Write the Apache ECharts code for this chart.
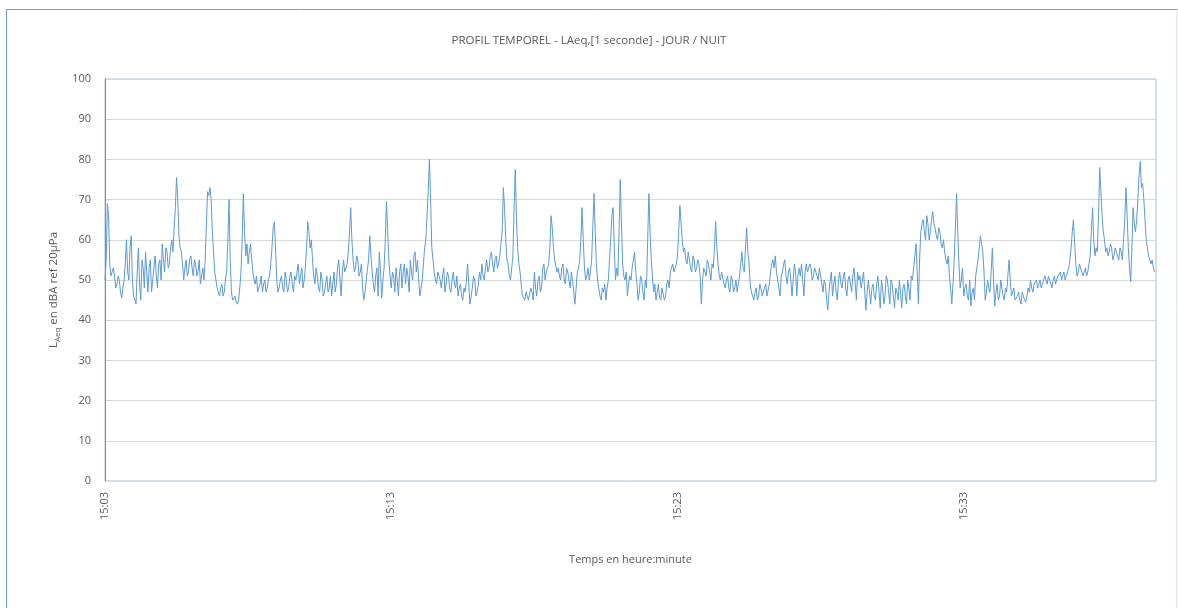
<!DOCTYPE html>
<html>
<head>
<meta charset="utf-8">
<title>Profil temporel LAeq</title>
<script src="https://cdn.jsdelivr.net/npm/echarts@6/dist/echarts.min.js"></script>
<style>
  html, body { margin: 0; padding: 0; background: #ffffff; }
  #chart { width: 1178px; height: 608px; }
</style>
</head>
<body>
<div id="chart"></div>
<script>
// Measurement start (15:03:00) and spacing between stored samples, in seconds
const startHour = 15;
const startMinute = 3;
const sampleStep = 5;
const durationSec = 2203;

// Y tick range
const yTicks = [0, 10, 20, 30, 40, 50, 60, 70, 80, 90, 100];

// LAeq readings in dB(A), one every sampleStep seconds from 15:03:00
const laeqValues = [
  50, 69, 54, 52, 51, 49, 50, 45.5, 50, 60,
  50, 61, 46, 44, 58, 45, 53, 57, 47, 55,
  50, 56, 48, 55, 59, 52, 57, 54, 60, 63,
  75.5, 61, 57, 50, 55, 52, 56, 51, 54, 52,
  49, 53, 55, 72, 73, 62, 52, 48, 46, 49,
  47, 52, 70, 47, 45, 44.5, 45, 52, 71.5, 56,
  54, 59, 52, 49, 47, 49, 47, 50, 48, 51,
  58, 64.5, 50, 48, 51, 47, 50, 48, 52, 47,
  50, 54, 51, 48, 53, 64.5, 58, 55, 49, 51,
  47, 50, 47, 51, 48, 46, 52, 49, 55, 46,
  55, 53, 57, 68, 55, 53, 55, 52, 48, 47,
  50, 61, 52, 47, 53, 57, 45.5, 53, 69.5, 55,
  48, 51, 53, 46, 54, 52, 49, 51, 55, 50,
  57, 55, 46, 50, 58, 66, 80, 58, 52, 49,
  52, 48, 53, 49, 51, 47, 52, 48, 46, 49,
  45, 47, 54, 44, 48, 50, 47, 52, 54, 50,
  55, 53, 57, 52, 56, 54, 59, 73, 60, 54,
  50, 56, 77.5, 58, 52, 46, 45, 46, 45, 47,
  52, 46, 51, 48, 54, 52, 54, 66, 58, 55,
  53, 50, 54, 49, 52, 48, 50, 44, 52, 55,
  68, 53, 51, 50, 55, 71.5, 54, 48, 45, 47,
  45, 50, 60, 68, 50, 51, 75, 54, 50, 46,
  51, 53, 57, 49, 47, 50, 45, 48, 71.5, 55,
  47, 45, 49, 45, 48, 46, 50, 52, 54, 53,
  56, 68.5, 60, 58, 54, 55, 52, 55, 53, 54,
  44, 53, 51, 54, 50, 53, 64.5, 54, 50, 52,
  48, 51, 47, 50, 48, 47, 51, 57, 52, 63,
  54, 47, 45, 48, 46, 48, 47, 49, 46, 52,
  55, 56, 50, 46, 52, 55, 49, 53, 46, 54,
  46, 53, 54, 46, 54, 52, 53, 51, 52, 50,
  51, 47, 49, 42.5, 50, 46, 51, 45, 52, 48,
  52, 46, 51, 47, 53, 45, 50, 48, 52, 42.5,
  50, 44, 49, 45, 51, 43, 48, 46, 50, 44,
  49, 43, 47, 50, 43, 49, 44, 48, 51, 53,
  59, 44, 62, 65, 60, 64, 62, 67, 63, 60,
  62, 58, 57, 54, 51, 44, 55, 71.5, 54, 50,
  46, 49, 45, 43.5, 48, 51, 55, 61, 57, 45,
  50, 47, 58, 43.5, 49, 46, 48, 45, 47, 55,
  46, 48, 45, 47, 44, 46, 44.5, 48, 50, 47,
  49, 48, 50, 49, 51, 49, 50, 48, 51, 50,
  51, 50, 52, 51, 53, 58, 65, 54, 52, 53,
  51, 53, 52, 56, 68, 56, 57, 78, 66, 60,
  58, 57, 58, 56, 57, 55, 57, 60, 73, 58,
  49.5, 68, 62, 70, 79.5, 74, 65, 58, 55, 55,
  52
];

// LAeq readings taken half a step after each of the readings above
const laeqHalfStep = [
  55, 66, 51, 53, 48, 51, 47, 48, 54, 52,
  58, 50, 45, 52, 49, 55, 48, 52, 53, 47,
  53, 51, 54, 50, 55, 58, 53, 58, 57, 68,
  70, 58, 54, 53, 51, 55, 53, 55, 51, 55,
  51, 50, 64, 71, 70, 57, 50, 47, 48, 46,
  50, 60, 55, 45, 46, 44, 48, 60, 62, 59,
  57, 55, 50, 51, 48, 51, 49, 47, 50, 54,
  63, 58, 47, 50, 48, 52, 47, 51, 49, 51,
  52, 49, 53, 50, 58, 62, 60, 51, 53, 48,
  52, 46, 49, 47, 51, 49, 47, 53, 50, 52,
  52, 54, 62, 60, 52, 56, 51, 54, 45, 50,
  55, 56, 49, 51, 46, 52, 50, 60, 62, 51,
  52, 47, 50, 52, 48, 54, 53, 47, 52, 56,
  52, 50, 48, 54, 60, 72, 70, 55, 50, 52,
  50, 51, 47, 52, 48, 50, 49, 51, 48, 46,
  48, 50, 49, 46, 51, 46, 49, 50, 51, 53,
  52, 56, 54, 55, 53, 56, 62, 68, 55, 51,
  53, 68, 65, 54, 49, 45.5, 47, 45, 48, 45,
  48, 50, 47, 53, 50, 53, 58, 63, 55, 52,
  51, 53, 50, 53, 50, 52, 47, 48, 53, 60,
  60, 50, 53, 52, 63, 62, 50, 46, 48, 49,
  48, 55, 66, 58, 53, 62, 64, 51, 52, 49,
  50, 55, 52, 45, 51, 47, 50, 60, 62, 51,
  49, 47, 45.5, 48, 45, 49, 48, 53, 52, 54,
  62, 64, 57, 55, 57, 53, 56, 52, 55, 51,
  50, 52, 55, 52, 54, 58, 58, 51, 52, 49,
  50, 48, 51, 47, 50, 49, 54, 53, 58, 57,
  49, 46, 47, 45, 49, 46, 48, 46, 49, 54,
  53, 52, 48, 51, 54, 51, 52, 50, 50, 52,
  51, 51, 50, 52, 52, 54, 50, 53, 51, 53,
  49, 50, 45, 47, 52, 49, 47, 50, 49, 51,
  48, 50, 49, 51, 49, 52, 51, 50, 47, 47,
  47, 48, 46, 49, 47, 50, 44, 51, 47, 50,
  46, 48, 45, 47, 48, 46, 50, 45, 50, 56,
  52, 55, 64, 62, 66, 60, 65, 64, 61, 63,
  59, 60, 55, 56, 48, 49, 63, 62, 48, 53,
  48, 46, 50, 47, 45, 53, 58, 59, 52, 47,
  48, 52, 50, 47, 45, 50, 46, 48, 51, 50,
  47, 45, 46, 45, 47, 45, 46, 47, 48, 49,
  50, 49, 48, 50, 50, 51, 49, 50, 49, 51,
  52, 51, 50, 52, 55, 62, 59, 51, 54, 52,
  52, 51, 54, 62, 60, 58, 66, 72, 62, 57,
  56, 59, 55, 58, 56, 58, 55, 65, 66, 53,
  58, 64, 65, 76, 73, 70, 60, 56, 54, 53
];

// Merge both reading sets into one time-ordered series
const seriesData = [];
laeqValues.forEach((v, i) => {
  seriesData.push([i * sampleStep, v]);
  if (i < laeqHalfStep.length) {
    seriesData.push([i * sampleStep + sampleStep / 2, laeqHalfStep[i]]);
  }
});

function clockLabel(sec) {
  const total = startHour * 60 + startMinute + Math.round(sec / 60);
  const h = Math.floor(total / 60);
  const m = total % 60;
  return h + ':' + String(m).padStart(2, '0');
}

const textColor = '#595959';
const fontFamily = '"Open Sans", "Liberation Sans", sans-serif';

const chart = echarts.init(document.getElementById('chart'), null, { renderer: 'canvas' });

chart.setOption({
  backgroundColor: '#ffffff',
  animation: false,
  textStyle: { fontFamily: fontFamily },
  title: {
    text: 'PROFIL TEMPOREL - LAeq,[1 seconde] - JOUR / NUIT',
    left: 'center',
    top: 30,
    textStyle: { fontSize: 11.5, fontWeight: 'normal', color: textColor, fontFamily: fontFamily }
  },
  graphic: [
    {
      type: 'polyline',
      shape: { points: [[6.5, 608], [6.5, 9.5], [1178, 9.5]] },
      style: { fill: 'none', stroke: '#6d9fcb', lineWidth: 1 },
      silent: true
    },
    {
      type: 'line',
      shape: { x1: 1176.5, y1: 9.5, x2: 1176.5, y2: 608 },
      style: { stroke: '#dfe9f3', lineWidth: 1 },
      silent: true
    }
  ],
  grid: {
    left: 105,
    right: 22,
    top: 79,
    bottom: 127,
    show: true,
    borderColor: '#a9bfd6',
    borderWidth: 1,
    backgroundColor: 'transparent'
  },
  xAxis: {
    type: 'value',
    min: 0,
    max: durationSec,
    interval: 600,
    axisLine: { show: true, lineStyle: { color: '#d9d9d9' } },
    axisTick: { show: false },
    splitLine: { show: false },
    axisLabel: {
      rotate: 90,
      margin: 11,
      color: textColor,
      fontSize: 11,
      showMaxLabel: false,
      formatter: clockLabel
    },
    name: 'Temps en heure:minute',
    nameLocation: 'middle',
    nameGap: 73,
    nameTextStyle: { color: textColor, fontSize: 11 }
  },
  yAxis: {
    type: 'value',
    min: yTicks[0],
    max: yTicks[yTicks.length - 1],
    interval: 10,
    axisLine: { show: true, lineStyle: { color: '#5b9bd5' } },
    axisTick: { show: false },
    splitLine: { show: true, lineStyle: { color: '#d9d9d9', width: 1 } },
    axisLabel: { color: textColor, fontSize: 11, margin: 14 },
    name: '{main|L}{sub|Aeq}{main| en dBA ref 20µPa}',
    nameLocation: 'middle',
    nameGap: 40,
    nameTextStyle: {
      color: textColor,
      padding: [0, 20, 0, 0],
      rich: {
        main: { fontSize: 11.5, color: textColor, fontFamily: fontFamily },
        sub: { fontSize: 8, color: textColor, fontFamily: fontFamily, verticalAlign: 'bottom', padding: [7, 0, 0, 0] }
      }
    }
  },
  series: [{
    type: 'line',
    data: seriesData,
    showSymbol: false,
    symbol: 'none',
    smooth: false,
    sampling: null,
    lineStyle: { color: '#5b9bd5', width: 1 },
    itemStyle: { color: '#5b9bd5' }
  }]
});
</script>
</body>
</html>
